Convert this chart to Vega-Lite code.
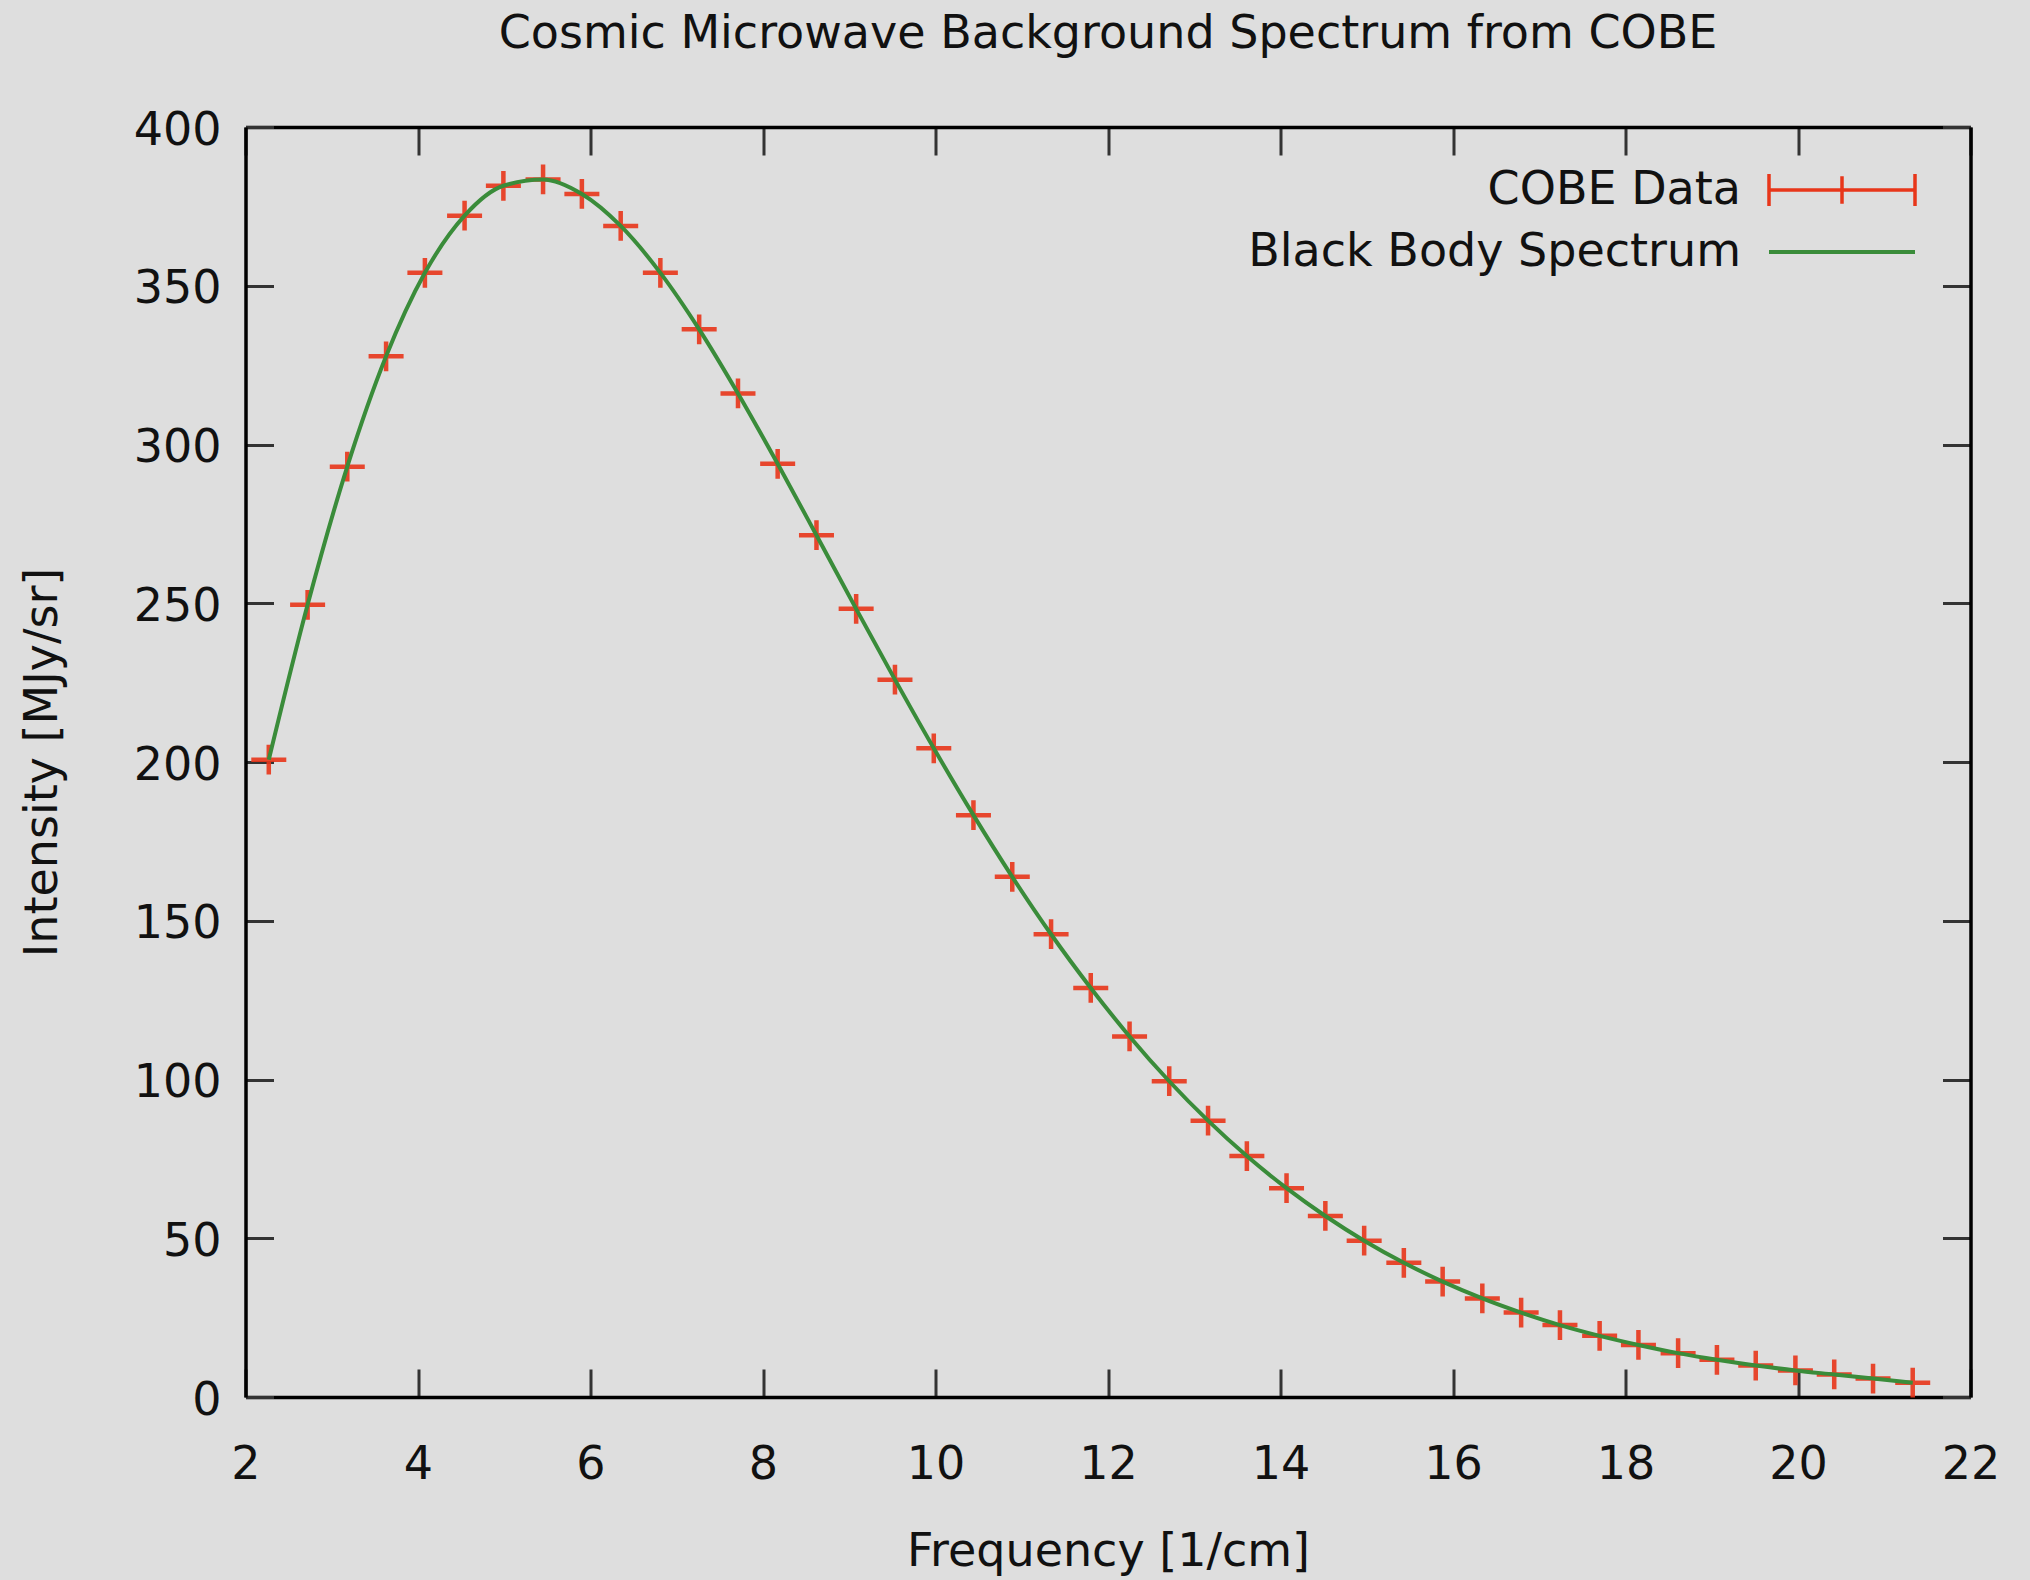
{
  "$schema": "https://vega.github.io/schema/vega-lite/v6.json",
  "width": 1725,
  "height": 1270,
  "autosize": {"type": "none"},
  "padding": {"left": 245.5, "top": 127, "right": 59.5, "bottom": 183},
  "background": "#dedede",
  "config": {"view": {"stroke": null}, "font": "DejaVu Sans"},
  "title": {
    "text": "Cosmic Microwave Background Spectrum from COBE",
    "fontSize": 46,
    "fontWeight": "normal",
    "font": "DejaVu Sans",
    "color": "#111111",
    "baseline": "alphabetic",
    "offset": 13,
    "anchor": "middle"
  },
  "data": {
    "values": [
      {"freq": 2.27, "intensity": 200.723},
      {"freq": 2.72, "intensity": 249.508},
      {"freq": 3.18, "intensity": 293.024},
      {"freq": 3.63, "intensity": 327.770},
      {"freq": 4.08, "intensity": 354.081},
      {"freq": 4.54, "intensity": 372.079},
      {"freq": 4.99, "intensity": 381.493},
      {"freq": 5.45, "intensity": 383.478},
      {"freq": 5.90, "intensity": 378.901},
      {"freq": 6.35, "intensity": 368.833},
      {"freq": 6.81, "intensity": 354.063},
      {"freq": 7.26, "intensity": 336.278},
      {"freq": 7.71, "intensity": 316.076},
      {"freq": 8.17, "intensity": 293.924},
      {"freq": 8.62, "intensity": 271.432},
      {"freq": 9.08, "intensity": 248.239},
      {"freq": 9.53, "intensity": 225.940},
      {"freq": 9.98, "intensity": 204.327},
      {"freq": 10.44, "intensity": 183.262},
      {"freq": 10.89, "intensity": 163.830},
      {"freq": 11.34, "intensity": 145.750},
      {"freq": 11.80, "intensity": 128.835},
      {"freq": 12.25, "intensity": 113.568},
      {"freq": 12.71, "intensity": 99.451},
      {"freq": 13.16, "intensity": 87.036},
      {"freq": 13.61, "intensity": 75.876},
      {"freq": 14.07, "intensity": 65.766},
      {"freq": 14.52, "intensity": 57.008},
      {"freq": 14.97, "intensity": 49.223},
      {"freq": 15.43, "intensity": 42.267},
      {"freq": 15.88, "intensity": 36.352},
      {"freq": 16.34, "intensity": 31.062},
      {"freq": 16.79, "intensity": 26.580},
      {"freq": 17.24, "intensity": 22.644},
      {"freq": 17.70, "intensity": 19.255},
      {"freq": 18.15, "intensity": 16.391},
      {"freq": 18.61, "intensity": 13.811},
      {"freq": 19.06, "intensity": 11.716},
      {"freq": 19.51, "intensity": 9.921},
      {"freq": 19.97, "intensity": 8.364},
      {"freq": 20.42, "intensity": 7.087},
      {"freq": 20.87, "intensity": 5.801},
      {"freq": 21.33, "intensity": 4.523}
    ]
  },
  "layer": [
    {
      "mark": {
        "type": "point",
        "shape": "M-1,0H1M0,-0.85V0.85",
        "size": 1225,
        "filled": false,
        "strokeWidth": 4.5,
        "opacity": 0.9
      },
      "encoding": {
        "x": {
          "field": "freq",
          "type": "quantitative",
          "scale": {"domain": [2, 22], "nice": false, "zero": false},
          "axis": {
            "orient": "bottom",
            "values": [2, 4, 6, 8, 10, 12, 14, 16, 18, 20, 22],
            "grid": false,
            "tickSize": -28,
            "tickWidth": 3,
            "tickColor": "#333333",
            "domainColor": "#000000",
            "domainWidth": 3.5,
            "labelPadding": 73,
            "labelFontSize": 46,
            "labelFont": "DejaVu Sans",
            "labelColor": "#111111",
            "labelFlush": false,
            "labelOverlap": false,
            "title": "Frequency [1/cm]",
            "titleFontSize": 46,
            "titleFont": "DejaVu Sans",
            "titleFontWeight": "normal",
            "titleColor": "#111111",
            "titlePadding": 42
          }
        },
        "y": {
          "field": "intensity",
          "type": "quantitative",
          "scale": {"domain": [0, 400], "nice": false},
          "axis": {
            "orient": "left",
            "values": [0, 50, 100, 150, 200, 250, 300, 350, 400],
            "grid": false,
            "tickSize": -28,
            "tickWidth": 3,
            "tickColor": "#333333",
            "domainColor": "#000000",
            "domainWidth": 3.5,
            "labelPadding": 52.5,
            "labelOffset": 3,
            "labelFontSize": 46,
            "labelFont": "DejaVu Sans",
            "labelColor": "#111111",
            "labelFlush": false,
            "labelOverlap": false,
            "title": "Intensity [MJy/sr]",
            "titleFontSize": 46,
            "titleFont": "DejaVu Sans",
            "titleFontWeight": "normal",
            "titleColor": "#111111",
            "titlePadding": 67
          }
        },
        "color": {
          "datum": "COBE Data",
          "type": "nominal",
          "scale": {"domain": ["COBE Data"], "range": ["#e8361a"]},
          "legend": {
            "title": null,
            "orient": "none",
            "legendX": 1521.5,
            "legendY": -12,
            "padding": 0,
            "symbolType": "M-1,-0.22V0.22M-1,0H1M1,-0.22V0.22M0,-0.19V0.19",
            "symbolSize": 21316,
            "symbolOffset": 0,
            "symbolStrokeWidth": 3.5,
            "symbolFillColor": "transparent",
            "symbolOpacity": 1,
            "labelAlign": "right",
            "labelOffset": -176,
            "labelFontSize": 46,
            "labelFont": "DejaVu Sans",
            "labelColor": "#111111",
            "labelLimit": 1000
          }
        }
      }
    },
    {
      "mark": {"type": "line", "interpolate": "monotone", "strokeWidth": 4},
      "encoding": {
        "x": {
          "field": "freq",
          "type": "quantitative",
          "scale": {"domain": [2, 22], "nice": false, "zero": false},
          "axis": {
            "orient": "top",
            "values": [2, 4, 6, 8, 10, 12, 14, 16, 18, 20, 22],
            "grid": false,
            "labels": false,
            "title": null,
            "tickSize": -28,
            "tickWidth": 3,
            "tickColor": "#333333",
            "domainColor": "#000000",
            "domainWidth": 3.5
          }
        },
        "y": {
          "field": "intensity",
          "type": "quantitative",
          "scale": {"domain": [0, 400], "nice": false},
          "axis": {
            "orient": "right",
            "values": [0, 50, 100, 150, 200, 250, 300, 350, 400],
            "grid": false,
            "labels": false,
            "title": null,
            "tickSize": -28,
            "tickWidth": 3,
            "tickColor": "#333333",
            "domainColor": "#000000",
            "domainWidth": 3.5
          }
        },
        "stroke": {
          "datum": "Black Body Spectrum",
          "type": "nominal",
          "scale": {"domain": ["Black Body Spectrum"], "range": ["#3a8c3a"]},
          "legend": {
            "title": null,
            "orient": "none",
            "legendX": 1521.5,
            "legendY": 50,
            "padding": 0,
            "symbolType": "stroke",
            "symbolSize": 21316,
            "symbolOffset": 0,
            "symbolStrokeWidth": 4,
            "labelAlign": "right",
            "labelOffset": -176,
            "labelFontSize": 46,
            "labelFont": "DejaVu Sans",
            "labelColor": "#111111",
            "labelLimit": 1000
          }
        }
      }
    }
  ],
  "resolve": {"axis": {"x": "independent", "y": "independent"}}
}
